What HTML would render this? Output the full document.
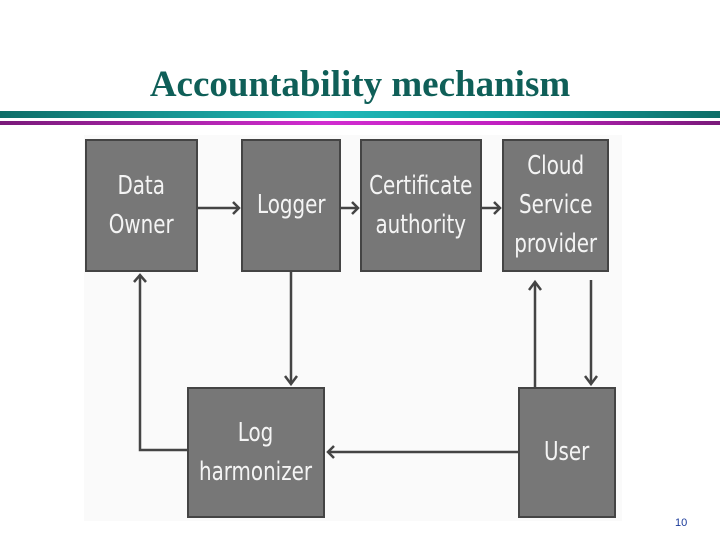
<!DOCTYPE html>
<html><head><style>
body{margin:0;width:720px;height:540px;background:#fff;overflow:hidden;position:relative;font-family:"Liberation Sans",sans-serif}
.t{position:absolute;left:0;width:720px;top:63px;text-align:center;font:bold 37px "Liberation Serif",serif;color:#0f5f58}
.b{position:absolute;background:#777;border:2px solid #444;box-sizing:border-box;color:#f4f4f4;display:flex;align-items:center;justify-content:center;text-align:center;font-size:26px;line-height:39px;font-family:"DejaVu Sans Condensed","Liberation Sans Narrow","Liberation Sans",sans-serif;transform-origin:center}
.b span{display:inline-block;transform:scaleX(.85)}
</style></head><body>
<div class="t">Accountability mechanism</div>
<div style="position:absolute;left:0;top:111px;width:720px;height:7px;background:linear-gradient(90deg,#0e6e68,#20b8b8 45%,#12a0a0 70%,#0e6e68)"></div>
<div style="position:absolute;left:0;top:121px;width:720px;height:4px;background:linear-gradient(90deg,#7a1a7a,#d12cd0 45%,#c020c0 70%,#7a1a7a)"></div>
<div style="position:absolute;left:84px;top:135px;width:538px;height:386px;background:#fafafa"></div>
<svg style="position:absolute;left:0;top:0" width="720" height="540">
<g stroke="#444" stroke-width="2.5" fill="none">
<path d="M198 208H239M341 208H358M482 208H500"/>
<path d="M233 202l6 6-6 6M352 202l6 6-6 6M494 202l6 6-6 6"/>
<path d="M187 450H140V275"/><path d="M134 282l6-7 6 7"/>
<path d="M291 272V384"/><path d="M285 376l6 8 6-8"/>
<path d="M518 452H328"/><path d="M334 446l-6 6 6 6"/>
<path d="M535 387V282"/><path d="M529 290l6-8 6 8"/>
<path d="M591 280V384"/><path d="M585 376l6 8 6-8"/>
</g></svg>
<div class="b" style="left:85px;top:139px;width:113px;height:133px"><span>Data<br>Owner</span></div>
<div class="b" style="left:241px;top:139px;width:100px;height:133px"><span>Logger</span></div>
<div class="b" style="left:360px;top:139px;width:122px;height:133px"><span>Certificate<br>authority</span></div>
<div class="b" style="left:502px;top:139px;width:107px;height:133px"><span>Cloud<br>Service<br>provider</span></div>
<div class="b" style="left:187px;top:387px;width:138px;height:131px"><span>Log<br>harmonizer</span></div>
<div class="b" style="left:518px;top:387px;width:98px;height:131px"><span>User</span></div>
<div style="position:absolute;left:675px;top:517px;font-size:11px;color:#1a3a9a">10</div>
</body></html>
